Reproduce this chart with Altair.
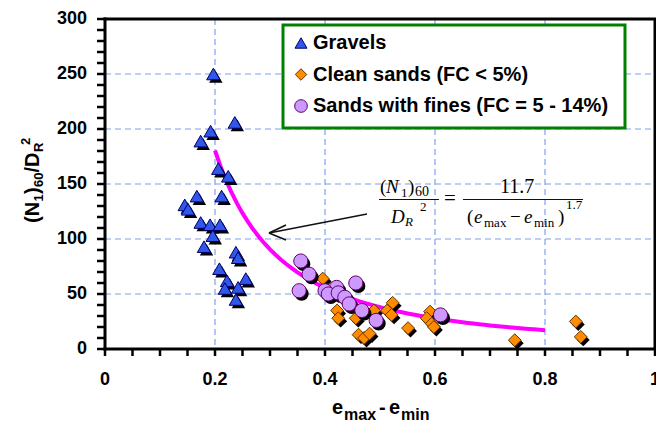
import altair as alt
import pandas as pd

# ---------------- data ----------------
gravel_x = [0.197, 0.236, 0.192, 0.174, 0.206, 0.224, 0.167, 0.212, 0.145, 0.151, 0.174, 0.191,
            0.209, 0.196, 0.180, 0.238, 0.242, 0.208, 0.222, 0.256, 0.218, 0.242, 0.238]
gravel_y = [250, 206, 198, 189, 164, 157, 139, 139, 131, 127, 115, 113,
            113, 103, 93, 88, 83, 73, 62, 64, 55, 56, 45]

clean_x = [0.396, 0.422, 0.424, 0.456, 0.489, 0.523, 0.513, 0.521, 0.551, 0.461, 0.471, 0.481,
           0.591, 0.585, 0.594, 0.598, 0.745, 0.856, 0.865]
clean_y = [64, 35, 28, 28, 35, 42, 35, 31, 19, 13, 10, 14,
           34, 28, 23, 20, 8, 25, 11]

fines_x = [0.356, 0.371, 0.353, 0.456, 0.421, 0.400, 0.406, 0.424, 0.436, 0.444, 0.467, 0.493, 0.610]
fines_y = [80, 68, 53, 60, 56, 53, 50, 51, 47, 41, 35, 26, 31]

# fitted relation shown on the chart: (N1)60/DR^2 = 11.7 / (emax - emin)^1.7
fit_a = 11.7
fit_b = 1.7
fit_x = [round(0.20 + 0.01 * i, 2) for i in range(61)]
fit_y = [fit_a / x ** fit_b for x in fit_x]

x_ticks = [0, 0.2, 0.4, 0.6, 0.8, 1]
x_tick_labels = ["0", "0.2", "0.4", "0.6", "0.8", "1"]
y_ticks = [0, 50, 100, 150, 200, 250, 300]
y_tick_labels = ["0", "50", "100", "150", "200", "250", "300"]
x_minor = [round(0.05 * i, 2) for i in range(21)]
y_minor = list(range(0, 301, 10))

legend_labels = ["Gravels", "Clean sands (FC < 5%)", "Sands with fines (FC = 5 - 14%)"]

# ---------------- layout ----------------
W, H = 550, 330
OX, OY = 105, 19

xs = alt.Scale(domain=[0, 1], nice=False, zero=False)
ys = alt.Scale(domain=[0, 300], nice=False, zero=False)


def X(f):
    return alt.X(f, scale=xs, axis=None)


def Y(f):
    return alt.Y(f, scale=ys, axis=None)


GRID = "#7f9ff0"
LBL = dict(font="Liberation Sans", fontWeight="bold", fontSize=18, color="black")

xt_df = pd.DataFrame({"v": x_ticks, "t": x_tick_labels})
yt_df = pd.DataFrame({"v": y_ticks, "t": y_tick_labels})
xm_df = pd.DataFrame({"v": x_minor})
ym_df = pd.DataFrame({"v": y_minor})

xgrid = alt.Chart(xt_df).mark_rule(color=GRID, strokeWidth=1.2, strokeDash=[6, 4]).encode(
    x=X("v:Q"), y=alt.value(0), y2=alt.value(H))
ygrid = alt.Chart(yt_df).mark_rule(color=GRID, strokeWidth=1.2, strokeDash=[6, 4]).encode(
    y=Y("v:Q"), x=alt.value(0), x2=alt.value(W))

xticks = alt.Chart(xm_df).mark_rule(color="black", strokeWidth=2.5).encode(
    x=X("v:Q"), y=alt.value(H), y2=alt.value(H + 7))
yticks = alt.Chart(ym_df).mark_rule(color="black", strokeWidth=2.5).encode(
    y=Y("v:Q"), x=alt.value(-8), x2=alt.value(0))

xlabels = alt.Chart(xt_df).mark_text(align="center", baseline="alphabetic", **LBL).encode(
    x=X("v:Q"), y=alt.value(H + 36), text="t:N")
ylabels = alt.Chart(yt_df).mark_text(align="right", baseline="middle", **LBL).encode(
    y=Y("v:Q"), x=alt.value(-18), text="t:N")

frame = [
    alt.Chart().mark_rule(color="black", strokeWidth=3).encode(
        x=alt.value(0), y=alt.value(-1.5), y2=alt.value(H + 1.5)),
    alt.Chart().mark_rule(color="black", strokeWidth=3).encode(
        y=alt.value(H), x=alt.value(-1.5), x2=alt.value(W + 1.5)),
    alt.Chart().mark_rule(color="black", strokeWidth=3).encode(
        y=alt.value(0), x=alt.value(-1.5), x2=alt.value(W + 1.5)),
    alt.Chart().mark_rule(color="black", strokeWidth=3).encode(
        x=alt.value(W), y=alt.value(0), y2=alt.value(H)),
]

fit_df = pd.DataFrame({"x": fit_x, "y": fit_y})
curve = alt.Chart(fit_df).mark_line(color="#ff00ff", strokeWidth=4).encode(
    x=X("x:Q"), y=Y("y:Q"))


def series(xv, yv, shape, fill, stroke, size):
    df = pd.DataFrame({"x": xv, "y": yv})
    shadow = alt.Chart(df).mark_point(shape=shape, filled=True, fill="#000000", size=size,
                                      opacity=1, xOffset=2.5, yOffset=3).encode(
        x=X("x:Q"), y=Y("y:Q"))
    main = alt.Chart(df).mark_point(shape=shape, filled=True, fill=fill, stroke=stroke,
                                    strokeWidth=1, size=size, opacity=1).encode(
        x=X("x:Q"), y=Y("y:Q"))
    return [shadow, main]


SYMS = [("triangle-up", "#3156ea", "#000066", 180),
        ("diamond", "#ff8c00", "#663300", 165),
        ("circle", "#cc99ff", "#660066", 200)]

pts = []
pts += series(gravel_x, gravel_y, *SYMS[0])
pts += series(clean_x, clean_y, *SYMS[1])
pts += series(fines_x, fines_y, *SYMS[2])


# ---------------- annotations (pixel positions) ----------------
def seg(x1, y1, x2, y2, w):
    return alt.Chart().mark_rule(color="#111111", strokeWidth=w).encode(
        x=alt.value(x1 - OX), y=alt.value(y1 - OY), x2=alt.value(x2 - OX), y2=alt.value(y2 - OY))


def txt(t, px, py, fs, **kw):
    return alt.Chart().mark_text(text=t, fontSize=fs, color="black", **kw).encode(
        x=alt.value(px - OX), y=alt.value(py - OY))


segs = [
    seg(367, 214, 269, 233, 1.6),   # arrow shaft
    seg(269, 233, 286, 225, 1.6),   # arrow head
    seg(269, 233, 286, 240, 1.6),
    seg(379, 199.5, 439, 199.5, 1.2),  # fraction bars
    seg(463, 199.5, 583, 199.5, 1.2),
]

leg_box = alt.Chart().mark_rect(fill="white", stroke="#008000", strokeWidth=3).encode(
    x=alt.value(283 - OX), x2=alt.value(625 - OX), y=alt.value(25 - OY), y2=alt.value(128 - OY))

leg_y = [43, 74.5, 106]
leg = []
for (shape, fill, stroke, size), ly, lab in zip(SYMS, leg_y, legend_labels):
    leg.append(alt.Chart().mark_point(shape=shape, filled=True, fill=fill, stroke=stroke,
                                      strokeWidth=1, size=size * 0.8, opacity=1).encode(
        x=alt.value(301 - OX), y=alt.value(ly - OY)))
    leg.append(txt(lab, 313, ly, 20, font="Liberation Sans", fontWeight="bold",
                   align="left", baseline="middle"))

SANS = dict(font="Liberation Sans", fontWeight="bold", align="left", baseline="alphabetic")
xtitle = [txt("e", 332, 414, 20, **SANS), txt("max", 344, 420, 16, **SANS),
          txt("-", 379, 414, 20, **SANS), txt("e", 389, 414, 20, **SANS),
          txt("min", 401, 420, 16, **SANS)]

ytitle = [txt("(N", 39, 223, 20, angle=270, **SANS), txt("1", 43, 201.5, 13, angle=270, **SANS),
          txt(")", 39, 194, 20, angle=270, **SANS), txt("60", 43, 187, 13, angle=270, **SANS),
          txt("/D", 39, 172.5, 20, angle=270, **SANS), txt("R", 43, 152, 13, angle=270, **SANS),
          txt("2", 30, 145, 13, angle=270, **SANS)]

SER = dict(font="Liberation Serif", align="left", baseline="alphabetic")
SERI = dict(font="Liberation Serif", fontStyle="italic", align="left", baseline="alphabetic")
formula = [
    txt("(", 380, 193, 19, **SER), txt("N", 386, 193, 19, **SERI), txt("1", 401, 197, 13, **SER),
    txt(")", 408, 193, 19, **SER), txt("60", 415, 196, 14, **SER),
    txt("D", 391, 223, 19, **SERI), txt("R", 405, 226, 13, **SERI), txt("2", 420, 211, 13, **SER),
    txt("=", 444, 205, 21, **SER),
    txt("11.7", 517, 193, 20, font="Liberation Serif", align="center", baseline="alphabetic"),
    txt("(", 467, 223, 19, **SER), txt("e", 474, 223, 19, **SERI), txt("max", 484, 227, 13, **SER),
    txt("\u2212", 510, 223, 19, **SER), txt("e", 524, 223, 19, **SERI),
    txt("min", 534, 227, 13, **SER), txt(")", 558, 223, 19, **SER), txt("1.7", 566, 209, 13, **SER),
]

chart = alt.layer(
    xgrid, ygrid, curve, xticks, yticks, *frame, xlabels, ylabels, *segs, *pts,
    leg_box, *leg, *xtitle, *ytitle, *formula
).properties(
    width=W, height=H,
    autosize=alt.AutoSizeParams(type="none"),
    padding={"left": OX, "top": OY, "right": 656 - OX - W, "bottom": 427 - OY - H},
    background="white",
).configure_view(stroke=None)

chart.save("out.html", embed_options={"renderer": "svg", "actions": False})
